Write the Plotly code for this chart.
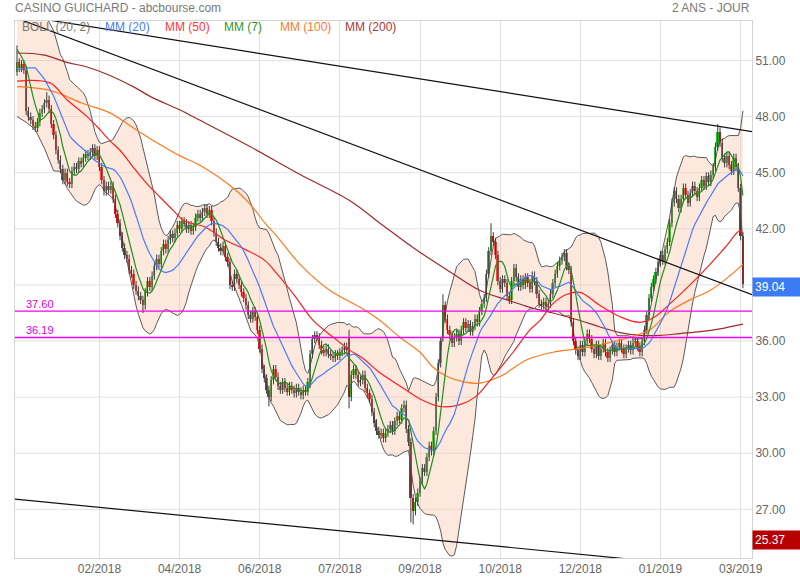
import plotly.graph_objects as go
import pandas as pd

# ---------------- data ----------------
closes = [
    50.9, 50.6, 50.8, 50.5, 48.3, 48.0, 47.8, 47.5, 47.4, 47.7,
    48.2, 48.4, 48.7, 48.9, 48.4, 47.6, 47.0, 46.2, 45.7, 45.2,
    44.6, 45.0, 44.5, 44.4, 45.1, 45.3, 45.2, 45.6, 45.5, 45.8,
    46.0, 45.9, 46.1, 46.3, 45.9, 46.2, 45.3, 44.6, 44.0, 44.3,
    44.1, 44.3, 43.6, 42.8, 42.3, 41.6, 41.0, 40.6, 40.4, 39.8,
    39.6, 39.0, 38.7, 38.4, 38.2, 37.9, 38.6, 39.2, 38.9, 39.5,
    40.0, 40.4, 40.1, 40.8, 41.2, 40.9, 41.4, 41.7, 41.5, 41.8,
    42.2, 42.0, 42.4, 42.3, 42.0, 42.2, 41.9, 42.1, 42.6, 42.8,
    42.6, 42.9, 43.1, 42.8, 43.0, 42.4, 41.8, 41.3, 41.0, 40.8,
    41.1, 40.5, 40.2, 39.0, 38.9, 39.6, 39.3, 39.0, 38.6, 38.3,
    37.9, 37.4, 37.2, 37.6, 37.3, 36.6, 35.6, 34.5, 34.0, 33.4,
    33.0, 33.9, 34.5, 34.1, 33.6, 33.4, 33.8, 33.5, 33.3, 33.6,
    33.4, 33.2, 33.5, 33.3, 33.1, 33.4, 33.3, 33.8, 35.3, 36.1,
    36.3, 36.2, 35.8, 35.5, 35.4, 35.6, 35.3, 35.2, 35.1, 35.3,
    35.2, 35.4, 35.5, 35.7, 35.5, 33.0, 34.2, 34.5, 34.2, 33.8,
    33.9, 34.2, 33.5, 33.2, 32.9, 32.2, 31.6, 31.2, 31.0, 31.1,
    30.8, 31.1, 31.3, 31.5, 31.2, 31.7, 32.0, 31.8, 32.4, 32.6,
    31.3, 30.6, 27.6, 26.9, 27.4, 27.9, 28.5, 29.2, 29.0, 29.8,
    30.4, 30.1, 31.2, 33.0, 34.8, 36.0, 37.9, 37.2, 36.6, 36.3,
    35.9, 36.2, 36.4, 36.0, 36.6, 37.0, 36.7, 36.9, 36.5, 36.8,
    37.2, 37.0, 37.6, 38.0, 38.3, 39.6, 40.8, 41.6, 41.3, 40.6,
    39.2, 38.8, 39.3, 39.1, 38.4, 38.2, 39.2, 39.9, 39.4, 38.9,
    39.3, 39.0, 39.4, 39.1, 38.8, 39.5, 39.2, 38.5, 38.0, 37.9,
    38.1, 37.8, 38.0, 38.5, 39.1, 39.6, 40.0, 40.3, 40.5, 40.7,
    40.0, 39.8, 37.0, 36.0, 35.5, 35.2, 35.8, 35.4, 36.0, 36.4,
    36.1, 35.6, 35.3, 35.8, 35.2, 35.6, 35.9, 35.4, 35.1, 35.5,
    35.8, 35.4, 35.7, 35.9, 35.6, 35.3, 35.6, 35.8, 35.5, 35.9,
    36.0, 35.7, 35.4, 36.0, 36.6, 37.4, 38.3, 38.9, 39.3, 39.7,
    40.2, 40.6, 40.3, 40.9, 41.3, 42.3, 43.4, 44.0, 43.6, 43.1,
    43.6, 44.2, 43.8, 43.4, 43.9, 44.3, 44.0, 43.7, 44.2, 44.6,
    44.3, 44.8, 44.5, 44.9, 45.3, 46.4, 47.2, 46.6, 45.8, 45.5,
    45.9, 45.4, 45.1, 45.8, 45.3, 44.2, 41.6, 39.04,
]
open_overrides = {0: 50.4, 145: 36.2, 128: 33.7, 186: 36.2}
high_overrides = {0: 51.8, 13: 49.3, 145: 36.6, 186: 38.5, 207: 42.3, 306: 47.6, 316: 44.4}
low_overrides = {55: 37.5, 110: 32.5, 145: 32.4, 172: 26.3, 173: 26.2}

tick_idx = [36, 71, 106, 141, 176, 211, 246, 281, 316]
tick_labels = ["02/2018", "04/2018", "06/2018", "07/2018", "09/2018",
               "10/2018", "12/2018", "01/2019", "03/2019"]
y_grid = [27, 30, 33, 36, 39, 42, 45, 48, 51]
y_labelled = [27, 30, 33, 36, 42, 45, 48, 51]   # 39.00 is hidden by the last-price box

# early values (before a full window)
mm7_early_idx = [0, 2, 4]
mm7_early = [51.6, 51.2, 50.7]
bb_early_idx = [0, 4, 8, 12, 16]
mm20_early = [50.5, 50.6, 50.6, 50.0, 49.1]
bb_up_early = [54.3, 54.2, 54.0, 53.5, 52.6]
bb_lo_early = [48.0, 47.7, 47.3, 46.3, 45.1]

mm50_idx = [0, 14.4, 21.8, 30.6, 36.2, 40.6, 45, 50.7, 56.8, 62.4, 68.1, 73.4, 82.1, 90.8,
            99.6, 108.3, 113.5, 121.4, 129.3, 139.7, 145.4, 150.7, 158.5, 167.2, 176, 184.7,
            193.4, 200, 206.6, 216.6, 224, 228.4, 234, 240.2, 245.9, 254.6, 263.3, 272,
            278.6, 285.2, 293.9, 302.6, 309.2, 315.7, 317]
mm50_val = [49.9, 49.8, 48.9, 48.0, 47.3, 46.7, 46.2, 45.3, 44.4, 43.7, 43.0, 42.4, 42.1, 41.4,
            40.9, 40.3, 39.6, 38.4, 37.1, 36.05, 35.5, 35.1, 34.3, 33.6, 32.9, 32.5,
            32.6, 33.0, 33.9, 35.4, 36.6, 37.1, 38.0, 38.5, 38.6, 37.9, 37.3, 37.0,
            37.3, 38.0, 39.0, 40.1, 41.0, 41.9, 41.7]
mm100_idx = [0, 14.4, 28.8, 40.6, 50.7, 61.1, 71.2, 79.9, 95.2, 102.6, 108.3, 113.5, 123.6,
             136.7, 149.8, 158.5, 167.2, 176, 181.7, 187.8, 195.6, 202.2, 210.9, 222.7, 234,
             245.9, 254.6, 267.7, 276.4, 285.2, 293.9, 302.6, 311.4, 317]
mm100_val = [49.6, 49.4, 48.7, 48.2, 47.4, 46.6, 45.9, 45.4, 44.1, 43.2, 42.3, 41.6, 40.1,
             38.7, 37.8, 37.1, 36.2, 35.4, 34.6, 34.1, 33.8, 33.75, 34.1, 35.0, 35.4,
             35.6, 35.8, 36.2, 36.6, 37.6, 38.2, 38.7, 39.5, 40.1]
mm200_idx = [0, 11.4, 21.8, 30.6, 40.6, 50.7, 59.4, 71.2, 79.9, 101.7, 123.6, 145.4, 158.5,
             172.9, 187.8, 202.2, 214, 224, 234, 245.9, 254.6, 263.3, 272, 280.8, 289.5,
             298.3, 307, 317]
mm200_val = [51.4, 51.3, 50.9, 50.65, 50.2, 49.6, 49.0, 48.35, 47.8, 46.4, 44.9, 43.5, 42.3,
             41.0, 39.8, 38.7, 38.2, 37.8, 37.5, 37.1, 36.75, 36.45, 36.3, 36.3, 36.4,
             36.5, 36.65, 36.9]

trend_x = [[-1, 321], [-1, 321], [-1, 321]]
trend_y = [[53.45, 47.2], [53.3, 38.48], [27.55, 23.7]]
levels = [37.60, 36.19]
last_price = 39.04
low_mark = 25.37

# ---------------- derived ----------------
N = len(closes)
idx = list(range(N))
opens = [open_overrides.get(i, closes[i - 1] if i > 0 else closes[0]) for i in idx]
highs = [high_overrides.get(i, max(opens[i], closes[i]) + 0.22) for i in idx]
lows = [low_overrides.get(i, min(opens[i], closes[i]) - 0.22) for i in idx]

s = pd.Series(closes)
mm7 = s.rolling(7).mean()
mm20 = s.rolling(20).mean()
sd20 = s.rolling(20).std(ddof=0)
bb_up = mm20 + 2 * sd20
bb_lo = mm20 - 2 * sd20

mm7_x = mm7_early_idx + idx[6:]
mm7_y = mm7_early + list(mm7[6:])
bb_x = bb_early_idx + idx[19:]
mm20_y = mm20_early + list(mm20[19:])
up_y = bb_up_early + list(bb_up[19:])
lo_y = bb_lo_early + list(bb_lo[19:])

fig = go.Figure()

# Bollinger band fill
fig.add_trace(go.Scatter(x=bb_x, y=up_y, mode="lines", line=dict(color="#5a5a5a", width=1),
                         hoverinfo="skip"))
fig.add_trace(go.Scatter(x=bb_x, y=lo_y, mode="lines", line=dict(color="#5a5a5a", width=1),
                         fill="tonexty", fillcolor="rgba(248,190,160,0.35)", hoverinfo="skip"))

# wicks
wx, wy = [], []
for i in idx:
    wx += [i, i, None]
    wy += [lows[i], highs[i], None]
fig.add_trace(go.Scatter(x=wx, y=wy, mode="lines", line=dict(color="#3c3c3c", width=1),
                         hoverinfo="skip"))

# bodies
bases = [min(o, c) for o, c in zip(opens, closes)]
heights = [max(abs(c - o), 0.06) for o, c in zip(opens, closes)]
colors = ["#22c322" if c >= o else "#e01212" for o, c in zip(opens, closes)]
fig.add_trace(go.Bar(x=idx, y=heights, base=bases, width=0.8,
                     marker=dict(color=colors, line=dict(width=0)), hoverinfo="skip"))

# moving averages
fig.add_trace(go.Scatter(x=mm200_idx, y=mm200_val, mode="lines", line=dict(color="#9e2a2a", width=1.2, shape="spline"), hoverinfo="skip"))
fig.add_trace(go.Scatter(x=mm100_idx, y=mm100_val, mode="lines", line=dict(color="#ff7a1e", width=1.2, shape="spline"), hoverinfo="skip"))
fig.add_trace(go.Scatter(x=mm50_idx, y=mm50_val, mode="lines", line=dict(color="#ff2020", width=1.2, shape="spline"), hoverinfo="skip"))
fig.add_trace(go.Scatter(x=bb_x, y=mm20_y, mode="lines", line=dict(color="#4a7bff", width=1.2), hoverinfo="skip"))
fig.add_trace(go.Scatter(x=mm7_x, y=mm7_y, mode="lines", line=dict(color="#1f8f1f", width=1.2), hoverinfo="skip"))

# trend lines
for tx, ty in zip(trend_x, trend_y):
    fig.add_trace(go.Scatter(x=tx, y=ty, mode="lines", line=dict(color="#111111", width=1.2),
                             hoverinfo="skip"))
# horizontal levels
for lv in levels:
    fig.add_trace(go.Scatter(x=[-1, 321], y=[lv, lv], mode="lines",
                             line=dict(color="#ee00ee", width=1.3), hoverinfo="skip"))

# horizontal grid lines (all levels, including the unlabelled 39)
shapes = [dict(type="line", xref="paper", x0=0, x1=1, yref="y", y0=g, y1=g,
               line=dict(color="#e2e2e2", width=1), layer="below") for g in y_grid]

annotations = []
for lv in levels:
    annotations.append(dict(x=0.012, xref="paper", y=lv, yref="y", text=f"{lv:.2f}",
                            showarrow=False, xanchor="left", yanchor="bottom",
                            font=dict(color="#e000e0", size=11), yshift=-1))

legend_items = [("BOLL (20, 2)", "#777777", 20), ("MM (20)", "#4a7bff", 103),
                ("MM (50)", "#ff3838", 163), ("MM (7)", "#2e962e", 222),
                ("MM (100)", "#ff7a2a", 278), ("MM (200)", "#a83838", 343)]
for txt, col, px in legend_items:
    annotations.append(dict(x=(px - 15) / 737, xref="paper", y=(558 - 27) / 537, yref="paper",
                            text=txt, showarrow=False, xanchor="left", yanchor="middle",
                            font=dict(color=col, size=12)))

annotations.append(dict(x=(13 - 15) / 737, xref="paper", y=(558 - 8) / 537, yref="paper",
                        text="CASINO GUICHARD - abcbourse.com", showarrow=False,
                        xanchor="left", yanchor="middle", font=dict(color="#7a7a7a", size=12)))
annotations.append(dict(x=1.0, xref="paper", y=(558 - 8) / 537, yref="paper",
                        text="2 ANS - JOUR", showarrow=False, xanchor="right", yanchor="middle",
                        font=dict(color="#7a7a7a", size=12)))
annotations.append(dict(x=1.0, xref="paper", y=last_price, yref="y", text=f"{last_price:.2f}",
                        showarrow=False, xanchor="left", yanchor="middle", bgcolor="#3b7cf4",
                        font=dict(color="white", size=12), width=44, align="left",
                        borderpad=2, yshift=-3))
annotations.append(dict(x=1.0, xref="paper", y=low_mark, yref="y", text=f"{low_mark:.2f}",
                        showarrow=False, xanchor="left", yanchor="middle", bgcolor="#b80000",
                        font=dict(color="white", size=12), width=44, align="left",
                        borderpad=2))

fig.update_layout(
    width=800, height=580,
    margin=dict(l=15, r=48, t=21, b=22),
    paper_bgcolor="white", plot_bgcolor="white",
    showlegend=False, hovermode=False,
    font=dict(family="Liberation Sans, Arial, sans-serif", size=12, color="#666666"),
    annotations=annotations, shapes=shapes,
    bargap=0,
)
fig.update_xaxes(range=[-0.87, 320.96], tickmode="array", tickvals=tick_idx, ticktext=tick_labels,
                 showgrid=True, gridcolor="#e2e2e2", gridwidth=1, zeroline=False,
                 showline=True, linecolor="#d4d4d4", mirror=True, ticks="", automargin=False,
                 tickfont=dict(color="#666666", size=12))
fig.update_yaxes(range=[24.40, 53.11], side="right", tickmode="array",
                 tickvals=y_labelled, tickformat=".2f",
                 showgrid=False, zeroline=False,
                 showline=True, linecolor="#d4d4d4", mirror=True, ticks="", automargin=False,
                 tickfont=dict(color="#666666", size=12))

fig.write_html("out.html", config={"displayModeBar": False},
               post_script="document.body.style.margin='0px';")
